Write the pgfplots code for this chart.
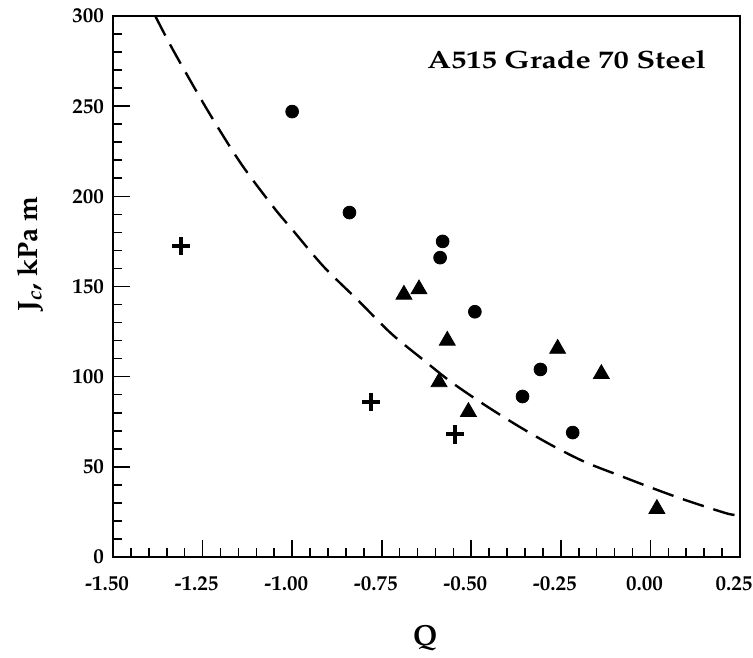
\documentclass[border=0pt]{standalone}
\usepackage[T1]{fontenc}
\usepackage{mathpazo}
\usepackage{pgfplots}
\pgfplotsset{compat=1.18}
\begin{document}
\begin{tikzpicture}
\useasboundingbox (-56.5pt,-50pt) rectangle (320pt,278.5pt);
\begin{axis}[
  scale only axis,
  width=313.5pt, height=270.5pt,
  at={(0,0)}, anchor=south west,
  xmin=-1.5, xmax=0.25, ymin=0, ymax=300,
  xtick={-1.5,-1.25,...,0.25},
  ytick={0,50,...,300},
  minor x tick num=4, minor y tick num=4,
  xtick pos=bottom, ytick pos=left,
  tick align=inside,
  major tick length=8.5pt, minor tick length=4.5pt,
  every tick/.style={black, line width=0.8pt},
  axis line style={line width=1.2pt},
  /pgf/number format/assume math mode=true,
  xticklabel style={/pgf/number format/fixed, /pgf/number format/fixed zerofill, /pgf/number format/precision=2, font=\bfseries\fontsize{10.5}{12}\selectfont, yshift=-6pt, xshift=-3pt},
  yticklabel style={font=\bfseries\fontsize{10.5}{12}\selectfont, xshift=-1pt},
  scaled x ticks=false,
  xlabel={Q},
  xlabel style={at={(axis description cs:0.498,-0.15)}, anchor=center, font=\bfseries\fontsize{14.5}{16}\selectfont},
  ylabel={J\textsubscript{\textit{c}}, kPa m},
  ylabel style={at={(axis description cs:-0.132,0.56)}, anchor=center, rotate=0, font=\bfseries\fontsize{14}{16}\selectfont},
  clip=false,
]
\addplot[black, line width=1.2pt, dash pattern=on 11pt off 5pt, smooth, tension=0.5] coordinates {
(-1.382,300) (-1.332,281) (-1.237,248) (-1.144,218.5) (-1.052,194) (-0.999,181.4) (-0.912,161) (-0.817,142.5) (-0.724,124) (-0.632,109) (-0.556,97) (-0.464,84.5) (-0.368,72.5) (-0.276,62) (-0.183,52.7) (-0.088,45.3) (0.004,38.3) (0.097,31.6) (0.209,24.4) (0.237,23.3)
};
\addplot[only marks, mark=*, mark size=3.2pt, black] coordinates {
(-1.00,247) (-0.84,191) (-0.58,175) (-0.587,166) (-0.49,136) (-0.357,89) (-0.307,104) (-0.217,69)
};
\addplot[only marks, mark=triangle*, mark size=4.6pt, black] coordinates {
(-0.688,145.5) (-0.646,148.5) (-0.567,120) (-0.590,97) (-0.508,80.5) (-0.259,115.5) (-0.137,101.5) (0.018,26.7)
};
\addplot[only marks, mark=+, mark size=4.6pt, black, mark options={line width=2pt}] coordinates {
(-1.31,172.5) (-0.78,86) (-0.545,68)
};
\node[anchor=east, font=\bfseries\fontsize{12.5}{14}\selectfont] at (rel axis cs:0.957,0.919) {\scalebox{1.22}[1]{A515 Grade 70 Steel}};
\end{axis}
\end{tikzpicture}
\end{document}
